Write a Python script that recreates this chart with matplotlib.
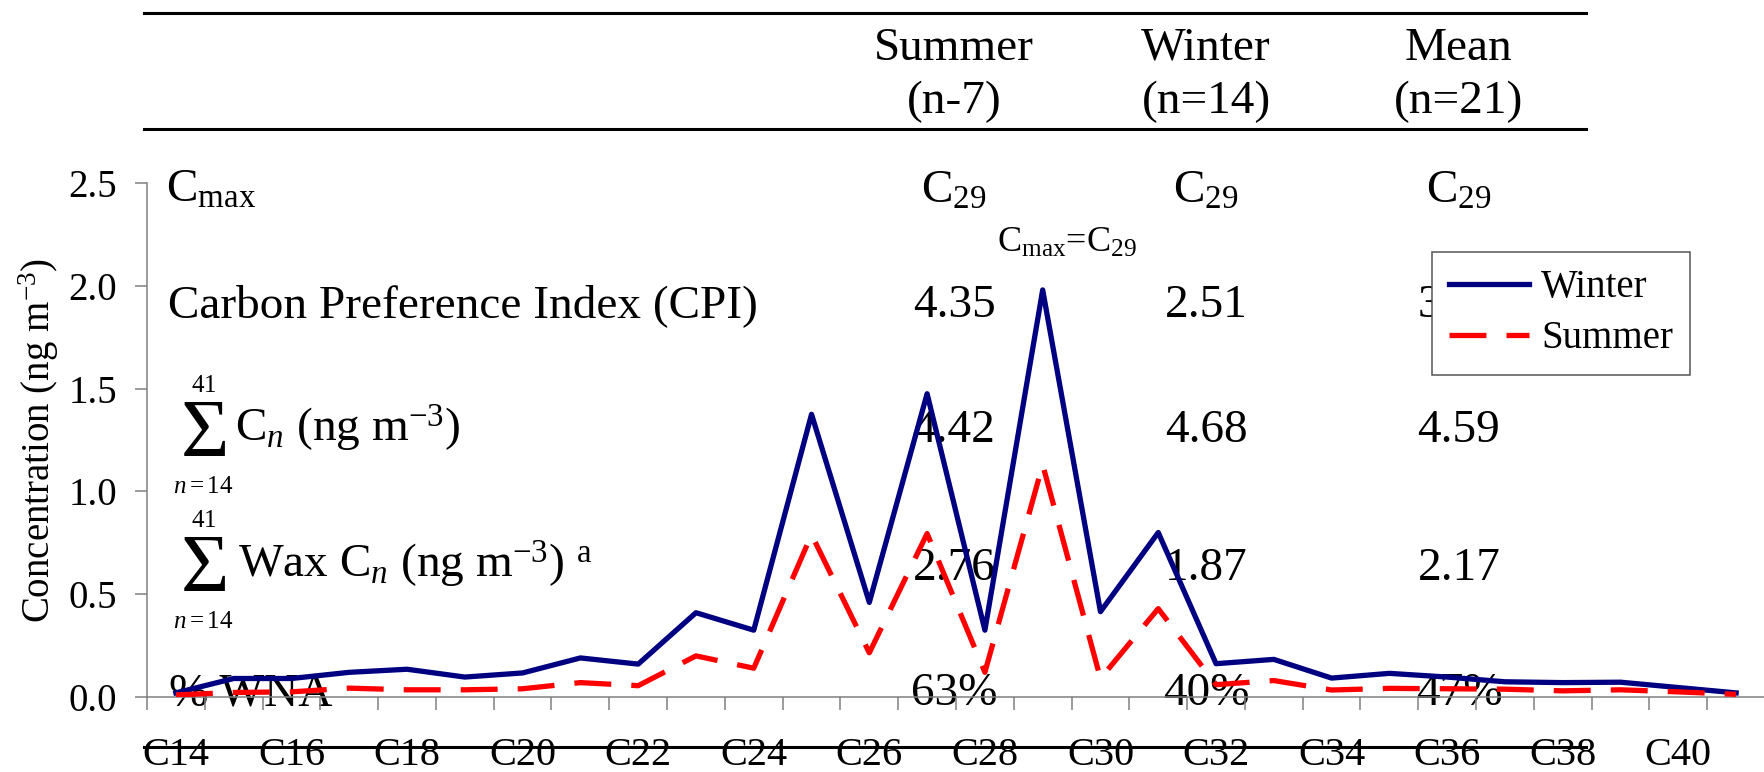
import matplotlib
matplotlib.use("Agg")
import matplotlib.pyplot as plt
import numpy as np
from matplotlib.lines import Line2D

plt.rcParams['font.family'] = ['Liberation Serif', 'DejaVu Serif']
plt.rcParams['mathtext.fontset'] = 'custom'
plt.rcParams['mathtext.rm'] = 'Liberation Serif'
plt.rcParams['mathtext.it'] = 'Liberation Serif:italic'
plt.rcParams['mathtext.bf'] = 'Liberation Serif:bold'

# n-alkane concentrations (ng m-3)
carbons = ["C14", "C15", "C16", "C17", "C18", "C19", "C20", "C21", "C22", "C23",
           "C24", "C25", "C26", "C27", "C28", "C29", "C30", "C31", "C32", "C33",
           "C34", "C35", "C36", "C37", "C38", "C39", "C40", "C41"]
winter = [0.02, 0.09, 0.09, 0.12, 0.135, 0.097, 0.117, 0.19, 0.16, 0.41,
          0.325, 1.375, 0.46, 1.475, 0.325, 1.98, 0.415, 0.80, 0.162, 0.183,
          0.092, 0.115, 0.097, 0.074, 0.07, 0.072, 0.046, 0.02]
summer = [0.01, 0.022, 0.025, 0.043, 0.035, 0.035, 0.04, 0.07, 0.055, 0.20,
          0.14, 0.79, 0.215, 0.795, 0.12, 1.13, 0.09, 0.43, 0.06, 0.08,
          0.034, 0.042, 0.04, 0.038, 0.03, 0.035, 0.025, 0.013]

# inset table
columns = ["Summer", "Winter", "Mean"]
col_n = ["(n-7)", "(n=14)", "(n=21)"]
cmax_vals = [r"C$_{\mathrm{29}}$", r"C$_{\mathrm{29}}$", r"C$_{\mathrm{29}}$"]
cpi_vals = ["4.35", "2.51", "3.12"]
sum_vals = ["4.42", "4.68", "4.59"]
wax_vals = ["2.76", "1.87", "2.17"]
wna_vals = ["63%", "40%", "47%"]

W, H = 1765, 772
fig = plt.figure(figsize=(W / 100, H / 100), dpi=100)
ax = fig.add_axes([147 / W, 75 / H, 1 - 147 / W, (697 - 183) / H])

x = np.arange(len(carbons))
ax.plot(x, winter, color="#000080", lw=3.8, label="Winter", zorder=3)
ax.plot(x, summer, color="#ff0000", lw=3.8, ls=(0, (7, 3.8)), label="Summer", zorder=3)

ax.set_ylim(0, 2.5)
ax.set_xlim(-0.5, 27.38)
ax.set_yticks(np.arange(0, 2.51, 0.5))
ax.set_yticklabels([f"{v:.1f}" for v in np.arange(0, 2.51, 0.5)])
ax.set_xticks(x[::2])
ax.set_xticklabels(carbons[::2])
ax.set_xticks(np.arange(-0.5, 28, 1), minor=True)

gray = "#808080"
for s in ["top", "right"]:
    ax.spines[s].set_visible(False)
for s in ["left", "bottom"]:
    ax.spines[s].set_color(gray)
    ax.spines[s].set_linewidth(1.1)
ax.tick_params(axis="y", length=8.6, width=1.1, color=gray, pad=13, labelsize=28)
ax.tick_params(axis="x", which="major", length=0, pad=29, labelsize=29)
ax.tick_params(axis="x", which="minor", length=9.4, width=1.1, color=gray)
ax.set_ylabel(r"Concentration (ng m$^{\mathrm{-3}}$)", fontsize=28, labelpad=5)

leg = ax.legend(loc="upper left", bbox_to_anchor=(1432 / W, 1 - 252 / H),
                bbox_transform=fig.transFigure, fontsize=28, fancybox=False,
                edgecolor="#555555", framealpha=1, borderpad=0.45,
                handlelength=2.05, handletextpad=0.3, labelspacing=0.35,
                borderaxespad=0)
leg.get_frame().set_linewidth(1.1)


def put(px, py, s, size=34, ha="left"):
    ax.text(px / W, 1 - py / H, s, transform=fig.transFigure, fontsize=size,
            ha=ha, va="baseline", zorder=1)


col_x = [954, 1206, 1459]

# header
for cx, name, n in zip(col_x, columns, col_n):
    put(cx, 60, name, ha="center")
    put(cx, 113, n, ha="center")

# row labels
put(166, 202, r"C$_{\mathrm{max}}$")
put(168, 317, "Carbon Preference Index (CPI)")
for sig_y in [458, 593]:
    put(203, sig_y - 2, r"$\mathrm{\Sigma}$", size=60, ha="center")
    put(204, sig_y - 66, r"$\mathrm{41}$", size=18, ha="center")
    put(203, sig_y + 35, r"$\mathit{n}\mathrm{=14}$", size=18, ha="center")
put(235, 442, r"C$_{\mathit{n}}$ (ng m$^{\mathrm{-3}}$)")
put(238, 578, r"Wax C$_{\mathit{n}}$ (ng m$^{\mathrm{-3}}$) $^{\mathrm{a}}$")
put(169, 705, "% WNA")

# values
for i, cx in enumerate(col_x):
    put(cx, 203, cmax_vals[i], ha="center")
    put(cx, 317, cpi_vals[i], ha="center")
    put(cx, 442, sum_vals[i], ha="center")
    put(cx, 580, wax_vals[i], ha="center")
    put(cx, 705, wna_vals[i], ha="center")

put(1067, 252, r"C$_{\mathrm{max}}$=C$_{\mathrm{29}}$", size=26, ha="center")

# table rules
for py in [13, 129, 747]:
    fig.add_artist(Line2D([144 / W, 1586 / W], [1 - py / H, 1 - py / H],
                          transform=fig.transFigure, color="black", lw=2.2))

fig.savefig("out.png", dpi=100)
